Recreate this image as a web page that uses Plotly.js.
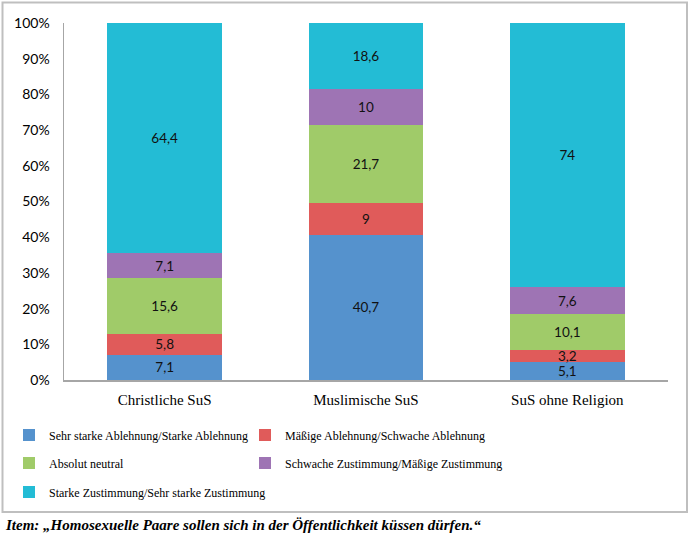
<!DOCTYPE html>
<html>
<head>
<meta charset="utf-8">
<script src="https://cdn.plot.ly/plotly-3.0.1.min.js"></script>
<style>html,body{margin:0;padding:0;background:#fff;}#chart{width:692px;height:536px;}</style>
</head>
<body>
<div id="chart"></div>
<script>
const categories = ["Christliche SuS", "Muslimische SuS", "SuS ohne Religion"];
const seriesNames = [
  "Sehr starke Ablehnung/Starke Ablehnung",
  "Mäßige Ablehnung/Schwache Ablehnung",
  "Absolut neutral",
  "Schwache Zustimmung/Mäßige Zustimmung",
  "Starke Zustimmung/Sehr starke Zustimmung"
];
const ablehnungStark = [7.1, 40.7, 5.1];
const ablehnungMaessig = [5.8, 9, 3.2];
const neutral = [15.6, 21.7, 10.1];
const zustimmungMaessig = [7.1, 10, 7.6];
const zustimmungStark = [64.4, 18.6, 74];
const yTickValues = [0, 10, 20, 30, 40, 50, 60, 70, 80, 90, 100];
const yTickLabels = ["0%", "10%", "20%", "30%", "40%", "50%", "60%", "70%", "80%", "90%", "100%"];
const caption = "Item: „Homosexuelle Paare sollen sich in der Öffentlichkeit küssen dürfen.“";

const seriesValues = [ablehnungStark, ablehnungMaessig, neutral, zustimmungMaessig, zustimmungStark];
const colors = ["#5592CD", "#E05B5A", "#A0CB69", "#9E74B4", "#23BCD5"];
const legendIds = ["legend", "legend2", "legend3", "legend4", "legend5"];

const W = 692, H = 536;
const M = {l: 64, r: 24, t: 23, b: 156, autoexpand: false};
const pw = W - M.l - M.r, ph = H - M.t - M.b;
const px = x => (x - M.l) / pw;
const py = y => (H - M.b - y) / ph;

const traces = seriesValues.map((vals, i) => ({
  type: "bar",
  name: seriesNames[i],
  x: categories,
  y: vals,
  text: vals.map(v => String(v).replace(".", ",")),
  textposition: "inside",
  insidetextanchor: "middle",
  textangle: 0,
  constraintext: "none",
  textfont: {family: "Lato, sans-serif", size: 13.5, color: "#111"},
  marker: {color: colors[i], line: {width: 0}},
  width: 0.57,
  hoverinfo: "none",
  legend: legendIds[i]
}));

const legendPos = [
  {x: 9, y: 435}, {x: 245, y: 435},
  {x: 9, y: 463}, {x: 245, y: 463},
  {x: 9, y: 492}
];
const legendFont = {family: "Liberation Serif, serif", size: 12, color: "#000"};

const layout = {
  width: W, height: H,
  margin: M,
  paper_bgcolor: "#fff",
  plot_bgcolor: "#fff",
  barmode: "stack",
  bargap: 0.43,
  showlegend: true,
  xaxis: {
    showgrid: false, zeroline: false,
    showline: true, linecolor: "#A6A6A6", linewidth: 1.5,
    ticks: "",
    tickfont: {family: "Liberation Serif, serif", size: 15, color: "#000"},
    ticklabelstandoff: 5,
    automargin: false,
    fixedrange: true
  },
  yaxis: {
    range: [0, 100],
    tickmode: "array",
    tickvals: yTickValues,
    ticktext: yTickLabels,
    showgrid: false, zeroline: false,
    showline: true, linecolor: "#A6A6A6", linewidth: 1.5,
    ticks: "",
    tickfont: {family: "Lato, sans-serif", size: 14, color: "#000"},
    ticklabelstandoff: 10,
    automargin: false,
    fixedrange: true
  },
  shapes: [{
    type: "rect", xref: "paper", yref: "paper",
    x0: px(2.5), x1: px(687), y0: py(512), y1: py(2.5),
    line: {color: "#BFBFBF", width: 2}, fillcolor: "rgba(0,0,0,0)", layer: "below"
  }],
  annotations: [{
    xref: "paper", yref: "paper",
    x: px(3), y: py(525), xanchor: "left", yanchor: "middle",
    text: "<b><i>" + caption + "</i></b>",
    showarrow: false,
    font: {family: "Liberation Serif, serif", size: 15, color: "#000"}
  }]
};
legendIds.forEach((id, i) => {
  layout[id] = {
    x: px(legendPos[i].x), y: py(legendPos[i].y),
    xanchor: "left", yanchor: "middle",
    orientation: "h",
    font: legendFont,
    bgcolor: "rgba(0,0,0,0)",
    borderwidth: 0,
    itemclick: false, itemdoubleclick: false
  };
});

Plotly.newPlot("chart", traces, layout, {displayModeBar: false, staticPlot: true});
</script>
</body>
</html>
